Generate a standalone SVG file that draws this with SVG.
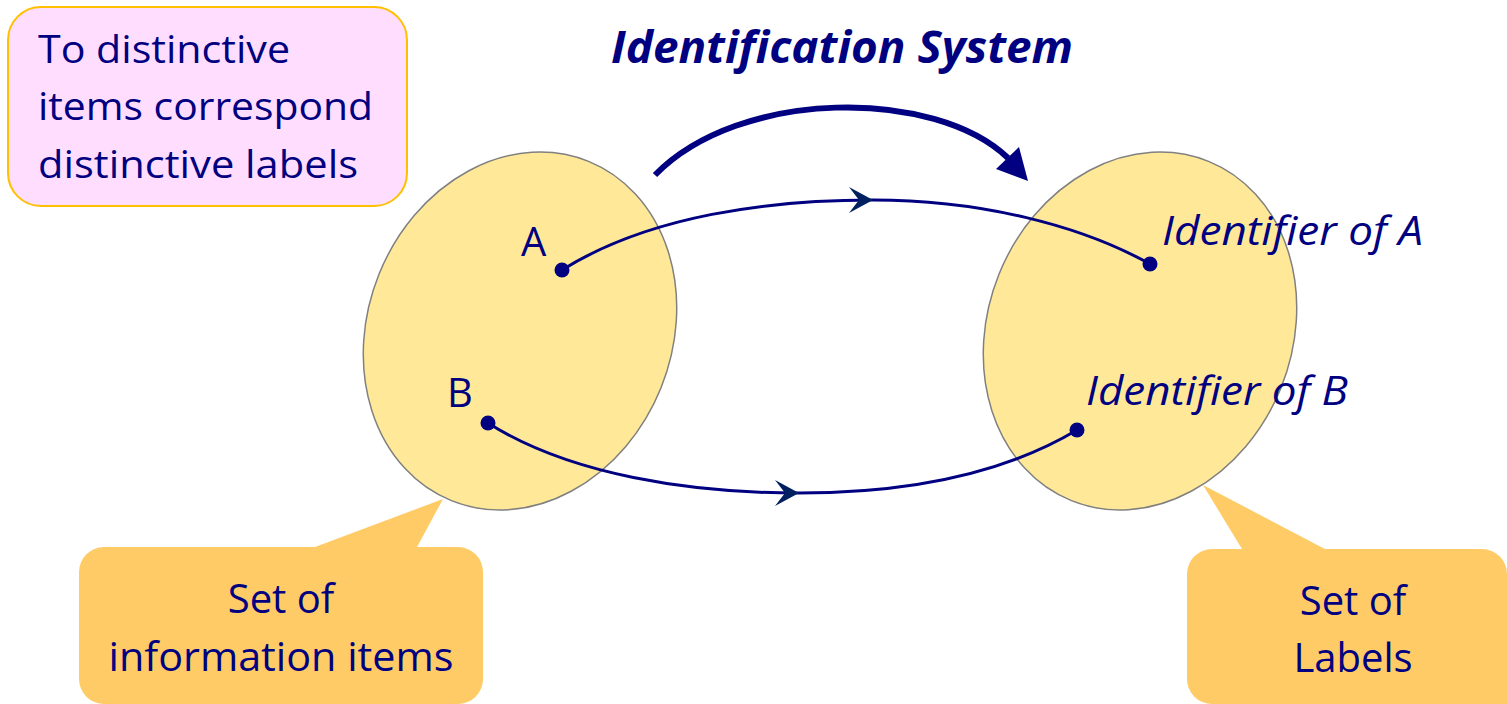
<svg xmlns="http://www.w3.org/2000/svg" width="1507" height="704" viewBox="0 0 1507 704">
<style>
.t{font-family:"Open Sans","Noto Sans","Liberation Sans",sans-serif;fill:#000080}
.ell{fill:#FFE999;stroke:#808080;stroke-width:1.5}
.call{fill:#FFCB66}
.link{fill:none;stroke:#000080;stroke-width:3}
.dot{fill:#000080}
</style>
<defs>
<marker id="stealth" markerUnits="userSpaceOnUse" viewBox="-26 -15 28 30" markerWidth="28" markerHeight="30" refX="0" refY="0" orient="auto">
<path d="M0,0 L-24,-13 L-14,0 L-24,13 Z" fill="#002060"/>
</marker>
</defs>
<g id="note">
<rect x="8" y="7" width="399" height="199" rx="33" fill="#FFDDFF" stroke="#FFC000" stroke-width="2"/>
<text class="t" font-size="38" x="38" y="63" textLength="252" lengthAdjust="spacingAndGlyphs">To distinctive</text>
<text class="t" font-size="38" x="38" y="120" textLength="335" lengthAdjust="spacingAndGlyphs">items correspond</text>
<text class="t" font-size="38" x="38" y="178" textLength="320" lengthAdjust="spacingAndGlyphs">distinctive labels</text>
</g>
<g id="title">
<text class="t" font-size="44" font-weight="bold" font-style="italic" x="611" y="63" textLength="462" lengthAdjust="spacingAndGlyphs">Identification System</text>
</g>
<g id="callout-items">
<path class="call" d="M104,547 H315 L443,499 L417,547 H458 A25,25 0 0 1 483,572 V679 A25,25 0 0 1 458,704 H104 A25,25 0 0 1 79,679 V572 A25,25 0 0 1 104,547 Z"/>
<text class="t" font-size="40" x="281" y="613" text-anchor="middle">Set of</text>
<text class="t" font-size="40" x="281" y="671" text-anchor="middle" textLength="345" lengthAdjust="spacingAndGlyphs">information items</text>
</g>
<g id="callout-labels">
<path class="call" d="M1212,549 H1242 L1203,485 L1325,549 H1482 A25,25 0 0 1 1507,574 V704 H1212 A25,25 0 0 1 1187,679 V574 A25,25 0 0 1 1212,549 Z"/>
<text class="t" font-size="40" x="1353" y="615" text-anchor="middle">Set of</text>
<text class="t" font-size="40" x="1353" y="672" text-anchor="middle">Labels</text>
</g>
<g id="set-items">
<ellipse class="ell" cx="520" cy="331" rx="152" ry="183" transform="rotate(22 520 331)"/>
<text class="t" font-size="40" x="521" y="256">A</text>
<text class="t" font-size="40" x="447" y="407">B</text>
</g>
<g id="set-labels">
<ellipse class="ell" cx="1140" cy="331" rx="152" ry="183" transform="rotate(22 1140 331)"/>
<text class="t" font-size="40" font-style="italic" x="1162" y="245" textLength="261" lengthAdjust="spacingAndGlyphs">Identifier of A</text>
<text class="t" font-size="40" font-style="italic" x="1086" y="405" textLength="262" lengthAdjust="spacingAndGlyphs">Identifier of B</text>
</g>
<g id="connectors">
<path class="link" d="M562,270 C650,215 770,200 873,200" marker-end="url(#stealth)"/>
<path class="link" d="M873,200 C980,200 1080,225 1150,264"/>
<path class="link" d="M488,423 C570,475 690,493 799,493" marker-end="url(#stealth)"/>
<path class="link" d="M799,493 C920,493 1010,470 1077,430"/>
<path d="M655,175 C740,88 935,88 1008,158" fill="none" stroke="#000080" stroke-width="6"/>
<polygon points="1028,181 996,169 1019,147" fill="#000080"/>
<circle class="dot" cx="562" cy="270" r="7.5"/>
<circle class="dot" cx="488" cy="423" r="7.5"/>
<circle class="dot" cx="1150" cy="264" r="7.5"/>
<circle class="dot" cx="1077" cy="430" r="7.5"/>
</g>
</svg>
